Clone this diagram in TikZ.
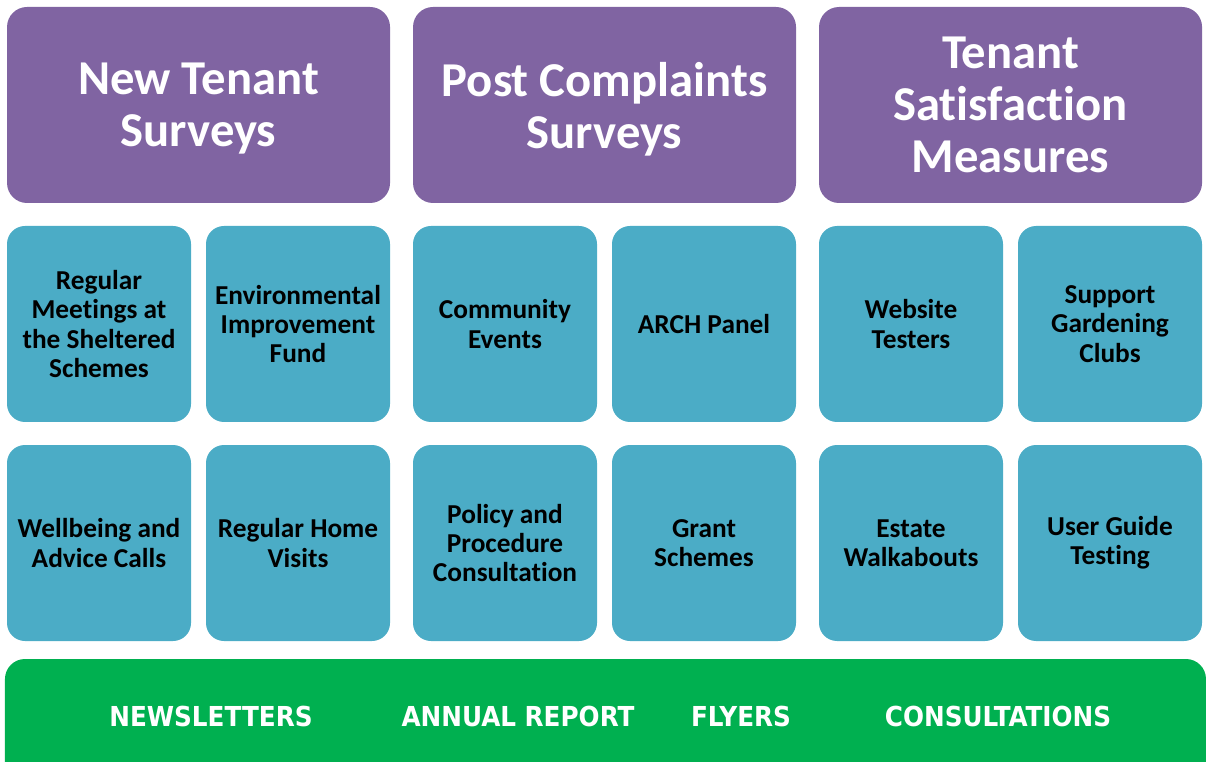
\documentclass[tikz,border=0pt]{standalone}
\usepackage{fontspec}
\setmainfont{Carlito}[Ligatures=NoCommon]
\newfontfamily\bandfont{DejaVu Sans Condensed}
\usepackage{tikz}
\usetikzlibrary{calc}

\definecolor{headpurple}{HTML}{8064A2}
\definecolor{tileblue}{HTML}{4BACC6}
\definecolor{bandgreen}{HTML}{00B050}

\begin{document}
\begin{tikzpicture}[
  headbox/.style={shape=rectangle, rounded corners=15pt, fill=headpurple, draw=none,
    minimum width=287.25pt, minimum height=147pt, align=center, text=white,
    font=\fontsize{36.5}{39}\selectfont\bfseries},
  tilebox/.style={shape=rectangle, rounded corners=13.5pt, fill=tileblue, draw=none,
    minimum width=138pt, minimum height=147pt, align=center, text=black,
    font=\fontsize{20.5}{22}\selectfont\bfseries},
  bandtext/.style={text=white, font=\fontsize{20.6}{24}\bandfont\bfseries}
]
\useasboundingbox (0pt,0pt) rectangle (906.75pt,-571.5pt);
\clip (0pt,0pt) rectangle (906.75pt,-571.5pt);

% survey headings
\node[headbox, text depth=0pt] (hNew) at (148.9pt,-78.75pt) {New Tenant\\Surveys};
\node[headbox, text depth=0pt] (hPost) at (453.4pt,-78.75pt) {Post Complaints\\Surveys};
\node[headbox] (hTsm) at (757.9pt,-78.75pt) {Tenant\\Satisfaction\\Measures};

% engagement tiles, two rows of six
\foreach \x/\y/\nm/\txt in {
  74.25/-243/reg/{Regular\\Meetings at\\the Sheltered\\Schemes},
  223.5/-243/env/{Environmental\\Improvement\\Fund},
  378.75/-243/com/{Community\\Events},
  528/-243/arch/{ARCH Panel},
  683.25/-243/web/{Website\\Testers},
  832.5/-243/gard/{Support\\Gardening\\Clubs},
  74.25/-407.25/well/{Wellbeing and\\Advice Calls},
  223.5/-407.25/home/{Regular Home\\Visits},
  378.75/-407.25/pol/{Policy and\\Procedure\\Consultation},
  528/-407.25/grant/{Grant\\Schemes},
  683.25/-407.25/est/{Estate\\Walkabouts},
  832.5/-407.25/ugt/{User Guide\\Testing}}
  {\node[tilebox] (t\nm) at (\x pt,\y pt) {\txt} ;}

% communication band
\node[shape=rectangle, rounded corners=15pt, fill=bandgreen, draw=none,
  minimum width=900.75pt, minimum height=211.5pt] (band) at (454.1pt,-600pt) {};
\node[bandtext] (news) at (158.25pt,-537pt) {NEWSLETTERS};
\node[bandtext] (annual) at (388.5pt,-537pt) {ANNUAL REPORT};
\node[bandtext] (flyers) at (555.75pt,-537pt) {FLYERS};
\node[bandtext] (consult) at (748.5pt,-537pt) {CONSULTATIONS};
\end{tikzpicture}
\end{document}
